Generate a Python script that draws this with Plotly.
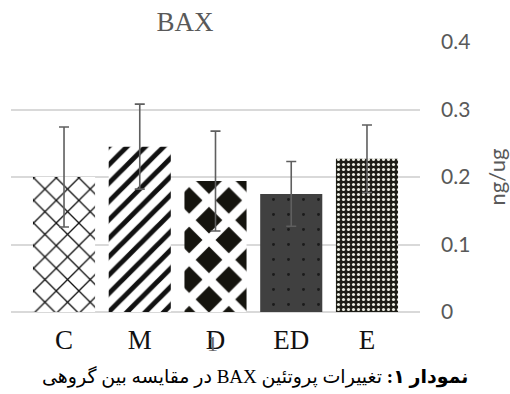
import plotly.graph_objects as go

# Group labels, mean BAX level and error (ng/ug)
groups = ["C", "M", "D", "ED", "E"]
bax_mean = [0.200, 0.245, 0.194, 0.175, 0.227]
bax_err = [0.074, 0.063, 0.074, 0.048, 0.050]
y_ticks = [0, 0.1, 0.2, 0.3, 0.4]
y_tick_text = ["0", "0.1", "0.2", "0.3", "0.4"]

# Fill patterns per group
patterns = [
    dict(shape="x", fgcolor="#111111", bgcolor="#ffffff", size=16, solidity=0.16, fgopacity=1),
    dict(shape="/", fgcolor="#111111", bgcolor="#ffffff", size=13, solidity=0.38, fgopacity=1),
    dict(shape="x", fgcolor="#ffffff", bgcolor="#15140e", size=28, solidity=0.55, fgopacity=1),
    dict(shape=".", fgcolor="#1a1a1a", bgcolor="#404040", size=15, solidity=0.03, fgopacity=1),
    dict(shape=".", fgcolor="#ecece2", bgcolor="#1e1d17", size=5, solidity=0.3, fgopacity=1),
]

fig = go.Figure()
for g, v, e, p in zip(groups, bax_mean, bax_err, patterns):
    fig.add_trace(go.Bar(
        x=[g], y=[v],
        marker=dict(color=p["bgcolor"], line=dict(width=0), pattern=p),
        error_y=dict(type="data", array=[e], visible=True,
                     color="#5f5f5f", thickness=1.6, width=5),
        showlegend=False,
    ))

# Right-to-left embedding so the Persian caption reads in the right order
RLE, PDF = "\u202b", "\u202c"
caption = "<b>" + RLE + "نمودار ۱:</b> تغییرات پروتئین BAX در مقایسه بین گروهی" + PDF

# plot area spans pixels 11..420 horizontally; the caption is centred on the page
plot_left, plot_width = 11, 409
caption_x = (255 - plot_left) / plot_width

fig.update_layout(
    width=510, height=394,
    margin=dict(l=plot_left, r=510 - plot_left - plot_width, t=42, b=82),
    paper_bgcolor="white", plot_bgcolor="white",
    bargap=0.18,
    title=dict(text="BAX", x=185 / 510, xanchor="center", y=1 - 22 / 394, yanchor="middle",
               font=dict(family="Liberation Serif", size=27, color="#595959")),
    xaxis=dict(
        range=[-0.7, 4.7], showgrid=False, showline=False, zeroline=False,
        ticks="", tickfont=dict(family="Liberation Serif", size=27, color="#111111"),
        ticklabelstandoff=9, fixedrange=True, automargin=False,
    ),
    yaxis=dict(
        side="right", range=[0, 0.4], tickvals=y_ticks, ticktext=y_tick_text,
        showgrid=True, gridcolor="#d9d9d9", gridwidth=1.5,
        zeroline=True, zerolinecolor="#d9d9d9", zerolinewidth=1.5,
        showline=False, ticks="", automargin=False,
        tickfont=dict(family="Lato, Open Sans", size=21, color="#595959"),
        ticklabelstandoff=20,
        title=dict(text="ng/ug", font=dict(family="Lato, Open Sans", size=22, color="#595959"),
                   standoff=25),
    ),
    annotations=[
        dict(text="1", x="D", y=0, xref="x", yref="y", yshift=-31, xshift=-3,
             showarrow=False, font=dict(family="Liberation Serif", size=22, color="#666666")),
        dict(text=caption,
             x=caption_x, y=0, xref="paper", yref="paper", xanchor="center", yanchor="middle",
             yshift=-(376 - 312), showarrow=False,
             font=dict(family="Liberation Serif, DejaVu Sans", size=19, color="#000000")),
    ],
)

fig.write_html("out.html")
